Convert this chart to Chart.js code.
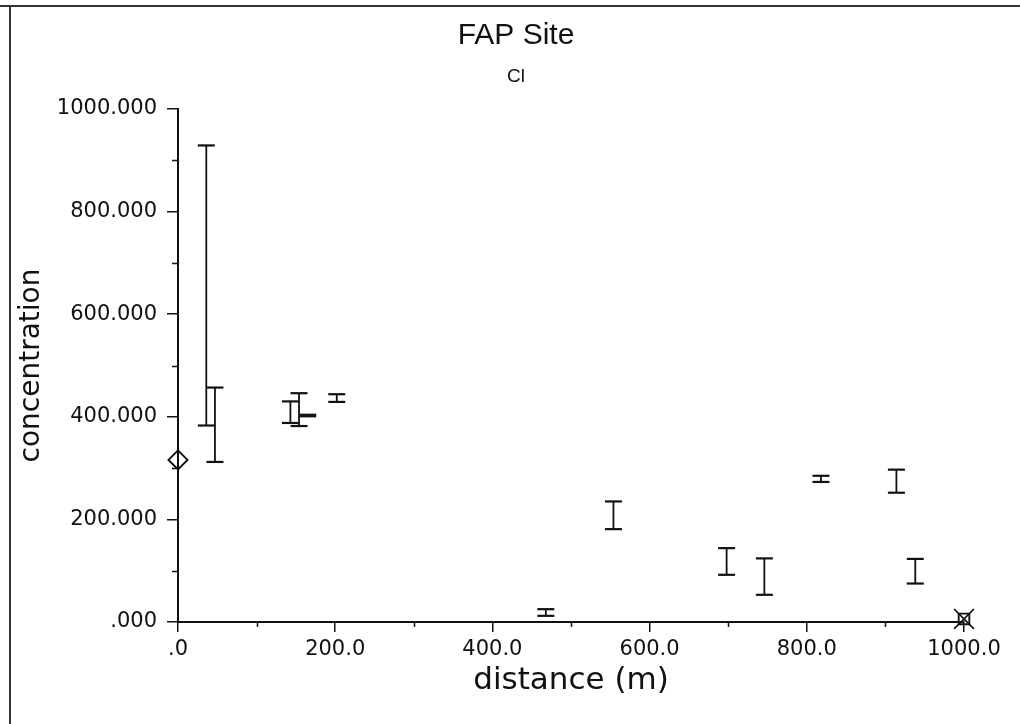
<!DOCTYPE html>
<html>
<head>
<meta charset="utf-8">
<script src="https://cdn.jsdelivr.net/npm/chart.js@4.4.1/dist/chart.umd.min.js"></script>
<style>
  html, body { margin: 0; padding: 0; background: #ffffff; }
  #wrap { width: 1020px; height: 724px; position: relative; }
  canvas { display: block; }
</style>
</head>
<body>
<div id="wrap"><canvas id="c" width="1020" height="724"></canvas></div>
<script>
// ---- Data ----
const chartTitle = 'FAP Site';
const chartSubtitle = 'Cl';
const xAxisTitle = 'distance (m)';
const yAxisTitle = 'concentration';

const xTickLabels = ['.0', '200.0', '400.0', '600.0', '800.0', '1000.0'];
const yTickLabels = ['.000', '200.000', '400.000', '600.000', '800.000', '1000.000'];
const xMinorTicks = [100, 300, 500, 700, 900];
const yMinorTicks = [100, 300, 500, 700, 900];

// error bars: distance, low and high concentration
const barDistance = [36, 47, 143, 154, 165, 202, 468, 554, 698, 746, 818, 914, 938];
const barLow      = [383, 312, 388, 382, 401, 429, 12, 181, 92, 53, 273, 252, 75];
const barHigh     = [929, 457, 430, 446, 404, 444, 25, 235, 144, 124, 285, 297, 123];

// single symbols
const diamondDistance = [0];
const diamondValue = [316];
const boxCrossDistance = [1000];
const boxCrossValue = [6];

// ---- Build datasets from the arrays ----
const errData = [];
barDistance.forEach((d, i) => {
  errData.push({ x: d, y: barLow[i] }, { x: d, y: barHigh[i] }, { x: d, y: null });
});
const diamondData = diamondDistance.map((d, i) => ({ x: d, y: diamondValue[i] }));
const boxCrossData = boxCrossDistance.map((d, i) => ({ x: d, y: boxCrossValue[i] }));

const INK = '#111111';
const tickFont = { family: 'DejaVu Sans', size: 21 };

const decorPlugin = {
  id: 'decor',
  beforeDraw(chart) {
    const ctx = chart.ctx;
    ctx.save();
    ctx.strokeStyle = '#333333';
    ctx.lineWidth = 2;
    ctx.beginPath();
    ctx.moveTo(0, 6); ctx.lineTo(1020, 6);
    ctx.moveTo(10, 6); ctx.lineTo(10, 724);
    ctx.stroke();
    ctx.restore();
  },
  afterDraw(chart) {
    const ctx = chart.ctx;
    const xs = chart.scales.x, ys = chart.scales.y;
    const area = chart.chartArea;
    ctx.save();
    ctx.strokeStyle = INK;
    ctx.lineWidth = 1.5;
    ctx.beginPath();
    xMinorTicks.forEach(v => {
      const px = Math.round(xs.getPixelForValue(v)) + 0.5;
      ctx.moveTo(px, area.bottom); ctx.lineTo(px, area.bottom + 5);
    });
    yMinorTicks.forEach(v => {
      const py = Math.round(ys.getPixelForValue(v)) + 0.5;
      ctx.moveTo(area.left - 6, py); ctx.lineTo(area.left, py);
    });
    ctx.stroke();
    ctx.restore();
  }
};

new Chart(document.getElementById('c'), {
  type: 'scatter',
  data: {
    datasets: [
      {
        data: errData,
        showLine: true,
        spanGaps: false,
        borderColor: INK,
        borderWidth: 1.8,
        pointStyle: 'line',
        pointRadius: 8.5,
        pointBorderWidth: 2.2,
        pointBorderColor: INK,
        pointBackgroundColor: INK,
        clip: false
      },
      {
        data: diamondData,
        pointStyle: 'rectRot',
        pointRadius: 9.5,
        pointBorderWidth: 1.9,
        pointBorderColor: INK,
        pointBackgroundColor: 'rgba(0,0,0,0)',
        clip: false
      },
      {
        data: boxCrossData,
        pointStyle: 'rect',
        pointRadius: 7.5,
        pointBorderWidth: 1.9,
        pointBorderColor: INK,
        pointBackgroundColor: 'rgba(0,0,0,0)',
        clip: false
      },
      {
        data: boxCrossData,
        pointStyle: 'crossRot',
        pointRadius: 14,
        pointBorderWidth: 1.7,
        pointBorderColor: INK,
        clip: false
      }
    ]
  },
  options: {
    responsive: false,
    animation: false,
    devicePixelRatio: 1,
    events: [],
    layout: { padding: { left: 12, right: 0, top: 0, bottom: 0 } },
    plugins: {
      legend: { display: false },
      tooltip: { enabled: false },
      title: {
        display: true,
        text: chartTitle,
        color: INK,
        font: { family: 'Liberation Sans', size: 30, weight: 'normal' },
        padding: { top: 18, bottom: 0 }
      },
      subtitle: {
        display: true,
        text: chartSubtitle,
        color: INK,
        font: { family: 'Liberation Sans', size: 19, weight: 'normal' },
        padding: { top: 11.6, bottom: 20.6 }
      }
    },
    scales: {
      x: {
        type: 'linear',
        position: 'bottom',
        min: 0,
        max: 1000,
        afterFit(scale) { scale.height = 102; },
        ticks: {
          stepSize: 200,
          color: INK,
          font: tickFont,
          padding: 5,
          maxRotation: 0,
          callback: (v, i) => xTickLabels[i]
        },
        grid: { display: true, drawOnChartArea: false, drawTicks: true, tickLength: 10, color: INK, lineWidth: 1.5 },
        border: { display: true, color: INK, width: 2 },
        title: {
          display: true,
          text: xAxisTitle,
          color: INK,
          font: { family: 'DejaVu Sans', size: 31 },
          padding: { top: 0, bottom: 24 }
        }
      },
      y: {
        type: 'linear',
        position: 'left',
        min: 0,
        max: 1000,
        afterFit(scale) { scale.width = 166; },
        ticks: {
          stepSize: 200,
          color: INK,
          font: tickFont,
          padding: 10,
          callback: (v, i) => yTickLabels[i]
        },
        grid: { display: true, drawOnChartArea: false, drawTicks: true, tickLength: 11, color: INK, lineWidth: 1.5 },
        border: { display: true, color: INK, width: 2 },
        title: {
          display: true,
          text: yAxisTitle,
          color: INK,
          font: { family: 'DejaVu Sans', size: 28 },
          padding: { top: 3, bottom: 0 }
        }
      },
      yRight: {
        type: 'linear',
        position: 'right',
        display: true,
        afterFit(scale) { scale.width = 56; },
        ticks: { display: false },
        grid: { display: false, drawTicks: false },
        border: { display: false }
      }
    }
  },
  plugins: [decorPlugin]
});
</script>
</body>
</html>
